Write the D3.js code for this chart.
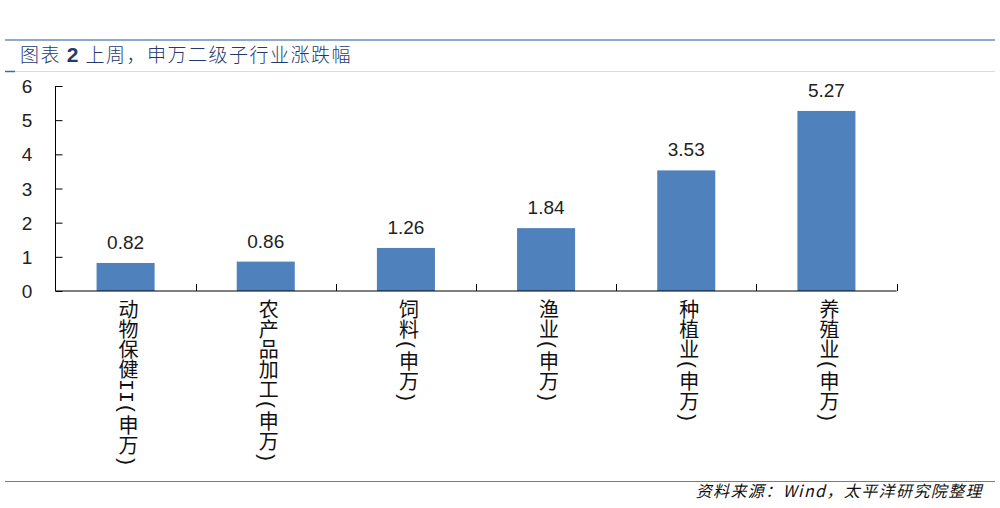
<!DOCTYPE html>
<html>
<head>
<meta charset="utf-8">
<script src="https://cdn.jsdelivr.net/npm/d3@7"></script>
<style>
  html, body { margin: 0; padding: 0; background: #fff; }
  svg { display: block; }
</style>
</head>
<body>
<svg id="chart" width="1000" height="508"></svg>
<script>
const categories = ["动物保健II(申万)", "农产品加工(申万)", "饲料(申万)", "渔业(申万)", "种植业(申万)", "养殖业(申万)"];
const values = [0.82, 0.86, 1.26, 1.84, 3.53, 5.27];
const yTicks = [0, 1, 2, 3, 4, 5, 6];
const titleParts = ["图表 ", "2", " 上周，申万二级子行业涨跌幅"];
const sourceText = "资料来源：Wind，太平洋研究院整理";

(function () {
const svg = d3.select("#chart");

// header lines
svg.append("line").attr("x1", 5).attr("x2", 995).attr("y1", 40).attr("y2", 40)
  .attr("stroke", "#8ea9cb").attr("stroke-width", 2);
svg.append("line").attr("x1", 5).attr("x2", 995).attr("y1", 71.5).attr("y2", 71.5)
  .attr("stroke", "#d3dde9").attr("stroke-width", 1);
svg.append("line").attr("x1", 5).attr("x2", 15).attr("y1", 71.5).attr("y2", 71.5)
  .attr("stroke", "#3e6aa6").attr("stroke-width", 1.5);

// title
const title = svg.append("text").attr("x", 20).attr("y", 62)
  .attr("fill", "#1f3b70")
  .style("font-family", "'Noto Sans CJK SC', sans-serif")
  .style("font-size", "19px")
  .style("letter-spacing", "1.5px");
title.selectAll("tspan").data(titleParts).enter().append("tspan")
  .text(d => d)
  .style("font-family", (d, i) => i === 1 ? "'Liberation Sans', Arial, sans-serif" : null)
  .style("font-weight", (d, i) => i === 1 ? "bold" : "300")
  .style("font-size", (d, i) => i === 1 ? "21px" : null);

// footer
svg.append("line").attr("x1", 5).attr("x2", 995).attr("y1", 481.5).attr("y2", 481.5)
  .attr("stroke", "#5d82ad").attr("stroke-width", 1);
svg.append("text").attr("x", 983).attr("y", 497).attr("text-anchor", "end")
  .attr("fill", "#111")
  .style("font-family", "'Noto Sans CJK SC', sans-serif")
  .style("font-size", "16px")
  .style("font-style", "italic")
  .style("letter-spacing", "1.4px")
  .text(sourceText);

// chart
const pLeft = 55.5, pRight = 896.5, pTop = 86, pBottom = 291;
const x = d3.scaleBand().domain(categories).range([pLeft, pRight])
  .paddingInner(0.586).paddingOuter(0.293);
const y = d3.scaleLinear().domain([0, 6]).range([pBottom, pTop]);

// bars
svg.append("g").selectAll("rect").data(values).enter().append("rect")
  .attr("x", (d, i) => x(categories[i]))
  .attr("width", x.bandwidth())
  .attr("y", d => y(d))
  .attr("height", d => y(0) - y(d))
  .attr("fill", "#4f81bd");

// value labels
svg.append("g").selectAll("text").data(values).enter().append("text")
  .attr("x", (d, i) => x(categories[i]) + x.bandwidth() / 2)
  .attr("y", d => y(d) - 14)
  .attr("text-anchor", "middle")
  .attr("fill", "#222")
  .style("font-family", "'Liberation Sans', Arial, sans-serif")
  .style("font-size", "19px")
  .text(d => d.toFixed(2));

// y axis
const yAxis = d3.axisRight(y).tickValues(yTicks).tickSize(7).tickFormat("");
const gy = svg.append("g").attr("transform", `translate(${pLeft},0)`).call(yAxis);
gy.select(".domain").remove();
gy.selectAll(".tick line").attr("stroke", "#000");
svg.append("line").attr("x1", pLeft).attr("x2", pLeft).attr("y1", pTop).attr("y2", pBottom)
  .attr("stroke", "#000").attr("stroke-width", 1);
svg.append("g").selectAll("text").data(yTicks).enter().append("text")
  .attr("x", 27).attr("y", d => y(d) + 7)
  .attr("text-anchor", "middle")
  .attr("fill", "#222")
  .style("font-family", "'Liberation Sans', Arial, sans-serif")
  .style("font-size", "19px")
  .text(d => d);

// x axis line + ticks at band boundaries
svg.append("line").attr("x1", pLeft).attr("x2", pRight).attr("y1", pBottom).attr("y2", pBottom)
  .attr("stroke", "#000").attr("stroke-width", 1.2);
const boundaries = categories.slice(1).map(c => x(c) - x.step() * x.paddingInner() / 2);
boundaries.push(pRight);
svg.append("g").selectAll("line").data(boundaries).enter().append("line")
  .attr("x1", d => Math.round(d) + 0.5).attr("x2", d => Math.round(d) + 0.5)
  .attr("y1", pBottom - 7).attr("y2", pBottom)
  .attr("stroke", "#000").attr("stroke-width", 1);

// vertical category labels
svg.append("g").selectAll("text").data(categories).enter().append("text")
  .attr("x", d => x(d) + x.bandwidth() / 2)
  .attr("y", 299)
  .attr("fill", "#111")
  .style("writing-mode", "vertical-rl")
  .style("text-orientation", "mixed")
  .style("font-family", "'Liberation Mono', 'Noto Sans CJK SC', sans-serif")
  .style("font-size", "20px")
  .text(d => d);
})();
</script>
</body>
</html>
